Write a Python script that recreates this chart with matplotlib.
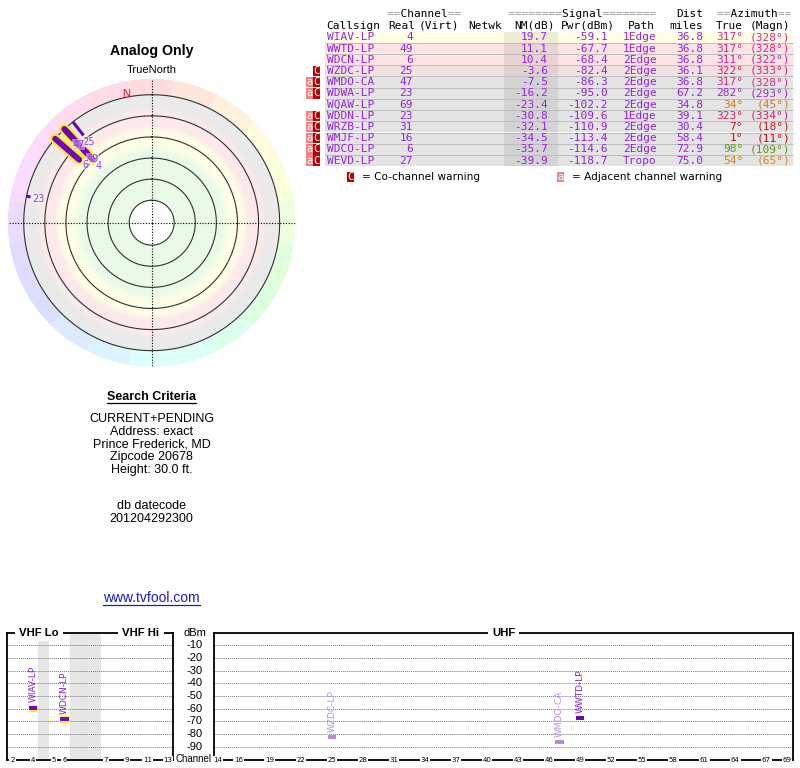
import colorsys
import numpy as np
import matplotlib
matplotlib.use('Agg')
import matplotlib.pyplot as plt
import matplotlib.patheffects as pe
from matplotlib.transforms import blended_transform_factory

W, H = 800, 768

# --- station table ---
callsigns = ['WIAV-LP', 'WWTD-LP', 'WDCN-LP', 'WZDC-LP', 'WMDO-CA', 'WDWA-LP',
             'WQAW-LP', 'WDDN-LP', 'WRZB-LP', 'WMJF-LP', 'WDCO-LP', 'WEVD-LP']
real_ch = [4, 49, 6, 25, 47, 23, 69, 23, 31, 16, 6, 27]
nm_db = [19.7, 11.1, 10.4, -3.6, -7.5, -16.2, -23.4, -30.8, -32.1, -34.5, -35.7, -39.9]
pwr_dbm = [-59.1, -67.7, -68.4, -82.4, -86.3, -95.0, -102.2, -109.6, -110.9, -113.4, -114.6, -118.7]
paths = ['1Edge', '1Edge', '2Edge', '2Edge', '2Edge', '2Edge',
         '2Edge', '1Edge', '2Edge', '2Edge', '2Edge', 'Tropo']
dist_mi = [36.8, 36.8, 36.8, 36.1, 36.8, 67.2, 34.8, 39.1, 30.4, 58.4, 72.9, 75.0]
az_true = [317, 317, 311, 322, 317, 282, 34, 323, 7, 1, 98, 54]
az_magn = [328, 328, 322, 333, 328, 293, 45, 334, 18, 11, 109, 65]
co_warn = [False, False, False, True, True, True, False, True, True, True, True, True]
adj_warn = [False, False, False, False, True, True, False, True, True, True, True, True]

criteria = ['CURRENT+PENDING', 'Address: exact', 'Prince Frederick, MD',
            'Zipcode 20678', 'Height: 30.0 ft.']
datecode = ['db datecode', '201204292300']

vhf_ticks = [2, 4, 5, 6, 7, 9, 11, 13]
uhf_ticks = [14, 16, 19, 22, 25, 28, 31, 34, 37, 40, 43, 46, 49, 52, 55, 58, 61, 64, 67, 69]
dbm_ticks = list(range(-10, -100, -10))

# styles
MONO = 'DejaVu Sans Mono'
SANS = 'Liberation Sans'
PURPLE = '#9422e0'
az_colors = ['#d42a84', '#d42a84', '#cc2299', '#d42070', '#d42a84', '#9a2acc',
             '#cc7a22', '#d42266', '#c81a1a', '#c80a0a', '#5a9a1a', '#cc8a1a']

fig = plt.figure(figsize=(8, 7.68), dpi=100)


def px_axes(x0, y0, x1, y1, **kw):
    return fig.add_axes([x0 / W, 1 - y1 / H, (x1 - x0) / W, (y1 - y0) / H], **kw)


ax0 = px_axes(0, 0, W, H)
ax0.set_xlim(0, W)
ax0.set_ylim(H, 0)
ax0.axis('off')

# ---------------- table ----------------
def row_color(nm):
    if nm >= 15:
        return '#fffde4'
    if nm >= 5:
        return '#fde4e4'
    if nm >= -5:
        return '#f2e1e1'
    return '#e4e4e4'


n = len(callsigns)
rh = 11.2
row_y = 37.3 + rh * np.arange(n)
ax0.barh(row_y, 468, left=325, height=rh, color=[row_color(v) for v in nm_db], lw=0)
ax0.fill_between([504, 558], row_y[0] - rh / 2, row_y[-1] + rh / 2, color='k', alpha=0.07, lw=0)
ax0.hlines(row_y[:-1] + rh / 2, 325, 793, color='#bdbdbd', lw=0.7)

tk = dict(family=MONO, fontsize=8, va='center')


def banner(x, y, word, left, right):
    ax0.text(x, y, '=' * left + ' ' * len(word) + '=' * right, color='#9a9a9a', ha='left', **tk)
    ax0.text(x, y, ' ' * left + word + ' ' * right, color='black', ha='left', **tk)


banner(387, 14, 'Channel', 2, 2)
banner(508, 14, 'Signal', 8, 8)
banner(717, 14, 'Azimuth', 2, 2)
ax0.text(703, 14, 'Dist', ha='right', **tk)
hy = 25.7
for x, s, ha in [(326, 'Callsign', 'left'), (415, 'Real', 'right'), (419, '(Virt)', 'left'),
                 (468, 'Netwk', 'left'), (555, 'NM(dB)', 'right'), (615, 'Pwr(dBm)', 'right'),
                 (655, 'Path', 'right'), (703, 'miles', 'right'), (743, 'True', 'right'),
                 (790, '(Magn)', 'right')]:
    ax0.text(x, hy, s, ha=ha, **tk)

for i in range(n):
    y = row_y[i]
    ax0.text(327, y, callsigns[i], ha='left', color=PURPLE, **tk)
    ax0.text(413, y, str(real_ch[i]), ha='right', color=PURPLE, **tk)
    ax0.text(548, y, f'{nm_db[i]:.1f}', ha='right', color=PURPLE, **tk)
    ax0.text(608, y, f'{pwr_dbm[i]:.1f}', ha='right', color=PURPLE, **tk)
    ax0.text(623, y, paths[i], ha='left', color=PURPLE, **tk)
    ax0.text(703, y, f'{dist_mi[i]:.1f}', ha='right', color=PURPLE, **tk)
    ax0.text(743, y, f'{az_true[i]}°', ha='right', color=az_colors[i], **tk)
    ax0.text(790, y, f'({az_magn[i]}°)', ha='right', color=az_colors[i], **tk)
    if co_warn[i]:
        ax0.bar(316.7, 10.4, width=6.8, bottom=y - 5.2, color='#bb0000', lw=0)
        ax0.text(316.7, y, 'C', ha='center', color='white', family=MONO, fontsize=7.5, va='center')
    if adj_warn[i]:
        ax0.bar(309.7, 10.4, width=6.8, bottom=y - 5.2, color='#f08484', lw=0)
        ax0.text(309.7, y, 'a', ha='center', color='white', family=MONO, fontsize=7.5, va='center')

ly = 177
ax0.bar(350.3, 10.4, width=6.8, bottom=ly - 5.2, color='#bb0000', lw=0)
ax0.text(350.3, ly, 'C', ha='center', va='center', color='white', family=MONO, fontsize=7.5)
ax0.text(362, ly, '= Co-channel warning', ha='left', va='center', family='DejaVu Sans', fontsize=7.6)
ax0.bar(560.5, 10.4, width=6.8, bottom=ly - 5.2, color='#f08484', lw=0)
ax0.text(560.5, ly, 'a', ha='center', va='center', color='white', family=MONO, fontsize=7.5)
ax0.text(572, ly, '= Adjacent channel warning', ha='left', va='center', family='DejaVu Sans', fontsize=7.6)

# ---------------- left text ----------------
ax0.text(151.7, 51, 'Analog Only', ha='center', va='center', family=SANS, fontsize=10.2,
         fontweight='bold')
t_sc = ax0.text(151.7, 397.5, 'Search Criteria', ha='center', va='center', family=SANS,
                fontsize=9, fontweight='bold')
for k, s in enumerate(criteria):
    ax0.text(151.7, 419.5 + 12.6 * k, s, ha='center', va='center', family=SANS, fontsize=9)
for k, s in enumerate(datecode):
    ax0.text(151.7, 506 + 12.6 * k, s, ha='center', va='center', family=SANS, fontsize=9)
t_url = ax0.text(151.7, 598, 'www.tvfool.com', ha='center', va='center', family=SANS,
                 fontsize=10, color='#1a1acc')

# ---------------- polar plot ----------------
cx, cy, R = 151.7, 222.7, 144.0
U0 = 101.3          # radial unit = U0 - NM(dB)
U_MAX = 136.5
U_RING = U0 + 20
axp = px_axes(cx - R, cy - R, cx + R, cy + R, projection='polar')
axp.set_theta_zero_location('N')
axp.set_theta_direction(-1)
axp.set_ylim(0, U_MAX)
axp.set_axis_off()

n_sec = 20
sec_th = np.arange(n_sec) * 2 * np.pi / n_sec
sec_col = [colorsys.hsv_to_rgb(t / (2 * np.pi), 0.14, 1.0) for t in sec_th]
axp.bar(sec_th, U_MAX - U_RING, width=2 * np.pi / n_sec, bottom=U_RING, color=sec_col, lw=0)

stop_nm = [-20, -8, -4, 9, 15, 27, 34, 80]
stop_col = np.array([matplotlib.colors.to_rgb(c) for c in
                     ['#e4e4e4', '#e4e4e4', '#fde3e3', '#fde3e3', '#fefee0', '#fefee0',
                      '#e2fbe0', '#e2fbe0']])
band_nm = np.arange(-20, 80, 0.5)
band_col = [tuple(np.interp(v, stop_nm, stop_col[:, j]) for j in range(3)) for v in band_nm]
axp.bar(0, 0.5, width=2 * np.pi, bottom=U0 - band_nm - 0.5, color=band_col, lw=0)
axp.bar(0, U0 - 80, width=2 * np.pi, bottom=0, color='white', lw=0)

circ = np.linspace(0, 2 * np.pi, 361)
for v in [80, 60, 40, 20, 0, -20]:
    axp.plot(circ, np.full_like(circ, U0 - v), color='#303030', lw=0.8)
for t in [0, np.pi / 2, np.pi, 1.5 * np.pi]:
    axp.plot([t, t], [0, U_MAX], color='black', lw=0.8, ls=(0, (1, 1.5)))

axp.text(0, U_MAX + 3.5, 'TrueNorth', ha='center', va='bottom', family=SANS, fontsize=8,
         clip_on=False)
axp.text(np.radians(349), 124.6, 'N', ha='center', va='center', family=SANS, fontsize=8,
         color='red')

for i in range(n):
    if nm_db[i] <= -20:
        continue
    th = np.radians(az_true[i])
    u_end = U0 - nm_db[i]
    if nm_db[i] > 0:
        fx = [pe.Stroke(linewidth=7.2, foreground='#ffee00'), pe.Normal()] if real_ch[i] <= 13 else None
        axp.plot([th, th], [U_RING, u_end], color='#7400cc', lw=4.2, solid_capstyle='round',
                 path_effects=fx)
    else:
        axp.plot([th, th], [U_RING, u_end], color='#6a00b8', lw=2.2, solid_capstyle='butt')
for i in range(n):
    if nm_db[i] <= -20:
        continue
    axp.text(np.radians(az_true[i]), U0 - nm_db[i] - 7.5, str(real_ch[i]), ha='center',
             va='center', family='DejaVu Sans', fontsize=7, color='#9933ee',
             bbox=dict(boxstyle='square,pad=0.05', fc='white', ec='none', alpha=0.45))

# ---------------- spectrum ----------------
vhf_x = {**{c: c - 1.5 for c in (2, 3, 4)}, 5: 4.5, 6: 5.5, **{c: c + 2.5 for c in range(7, 14)}}
axv = px_axes(7.3, 632.5, 173.3, 759.5)
axu = px_axes(214, 632.5, 792.7, 759.5)
axv.set_xlim(0, 16)
axu.set_xlim(13.62, 69.54)
for ax in (axv, axu):
    ax.set_ylim(-100, 0)
    ax.set_yticks(dbm_ticks)
    ax.set_xticks([])
    ax.grid(axis='y', color='#777777', lw=0.7, ls=(0, (1, 1)))
    ax.tick_params(length=0, labelleft=False)
    for s in ax.spines.values():
        s.set_linewidth(1.3)
        s.set_color('black')
axv.axvspan(3, 4, color='#e6e6e6', lw=0, zorder=0)
axv.axvspan(6, 9, color='#e6e6e6', lw=0, zorder=0)

box = dict(boxstyle='square,pad=0.35', fc='white', ec='none')
for ax, x, s in [(axv, 3.06, 'VHF Lo'), (axv, 12.89, 'VHF Hi'), (axu, 41.6, 'UHF')]:
    ax.text(x, 0, s, ha='center', va='center', family=SANS, fontsize=8.2, fontweight='bold',
            bbox=box, clip_on=False, zorder=5)

tbox = dict(boxstyle='square,pad=0.12', fc='white', ec='none')
for c in vhf_ticks:
    axv.text(vhf_x[c], -100, str(c), ha='center', va='center', family='DejaVu Sans',
             fontsize=5, bbox=tbox, clip_on=False, zorder=5)
for c in uhf_ticks:
    axu.text(c, -100, str(c), ha='center', va='center', family='DejaVu Sans',
             fontsize=5, bbox=tbox, clip_on=False, zorder=5)

tr = blended_transform_factory(ax0.transData, axv.transData)
ax0.text(194.5, 0, 'dBm', transform=tr, ha='center', va='center', family=SANS, fontsize=8)
for v in dbm_ticks:
    ax0.text(194.5, v, str(v), transform=tr, ha='center', va='center', family=SANS, fontsize=8)
ax0.text(194, 759.5, 'Channel', ha='center', va='center', family=SANS, fontsize=7)

for i in range(n):
    if pwr_dbm[i] <= -90:
        continue
    ch = real_ch[i]
    ax, x = (axv, vhf_x[ch]) if ch <= 13 else (axu, ch)
    strong = nm_db[i] > 0
    col = ('#7000dd' if ch <= 13 else '#6800b0') if strong else '#b488dc'
    lab = '#8420d8' if strong else '#b890e0'
    fx = [pe.Stroke(linewidth=5.0, foreground='#ffee00'), pe.Normal()] if ch <= 13 else None
    ax.plot([x - 0.4, x + 0.4], [pwr_dbm[i], pwr_dbm[i]], color=col, lw=2.8,
            solid_capstyle='butt', path_effects=fx, zorder=4)
    ax.text(x, pwr_dbm[i] + 4, callsigns[i], rotation=90, ha='center', va='bottom',
            family='DejaVu Sans', fontsize=6.5, color=lab, zorder=4)

# underlines under the two underlined captions
fig.canvas.draw()
inv = ax0.transData.inverted()
for t, c in [(t_sc, 'black'), (t_url, '#1a1acc')]:
    bb = t.get_window_extent()
    (x0, y0), (x1, _) = inv.transform([[bb.x0, bb.y0], [bb.x1, bb.y1]])
    ax0.plot([x0, x1], [y0 - 0.5, y0 - 0.5], color=c, lw=0.9)

fig.savefig('out.png', dpi=100)
